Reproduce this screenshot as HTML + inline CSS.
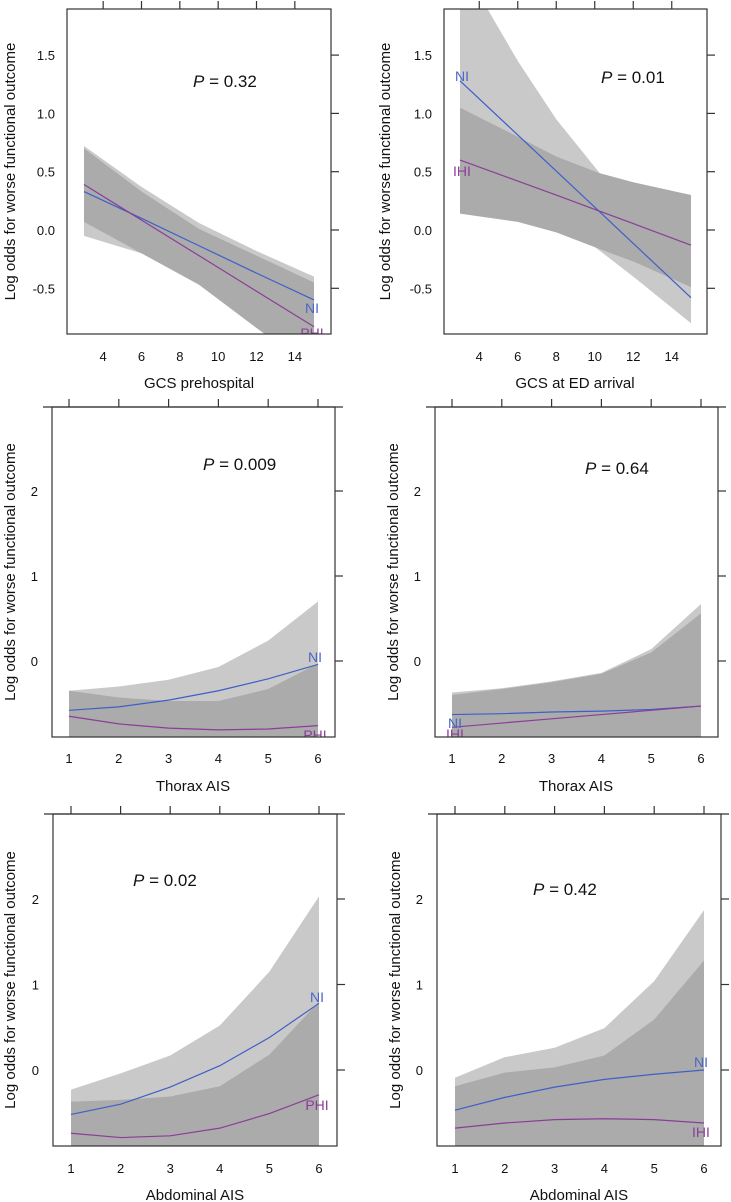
<!DOCTYPE html>
<html><head><meta charset="utf-8"><style>
body{margin:0;background:#fff}
svg{display:block}
text{font-family:"Liberation Sans",sans-serif}
</style></head><body>
<svg id="fig" width="731" height="1202" viewBox="0 0 731 1202" xmlns="http://www.w3.org/2000/svg"></svg>
<script>
// ---- Panel data ----
const p1_x=[3,6,9,12,15];
const p1_ni_fit=[0.33,0.10,-0.135,-0.37,-0.60];
const p1_ni_hi=[0.72,0.37,0.06,-0.18,-0.40];
const p1_ni_lo=[-0.05,-0.20,-0.33,-0.55,-0.80];
const p1_g_fit=[0.39,0.085,-0.22,-0.525,-0.83];
const p1_g_hi=[0.70,0.33,0.01,-0.22,-0.45];
const p1_g_lo=[0.07,-0.20,-0.47,-0.84,-1.2];

const p2_x=[3,6,8,10.2,12,15];
const p2_ni_fit=[1.28,0.815,0.505,0.165,-0.115,-0.58];
const p2_ni_hi=[2.3,1.45,0.95,0.50,0.15,-0.40];
const p2_ni_lo=[0.5,0.3,0.1,-0.17,-0.40,-0.80];
const p2_g_fit=[0.60,0.42,0.30,0.165,0.055,-0.13];
const p2_g_hi=[1.05,0.80,0.63,0.49,0.41,0.30];
const p2_g_lo=[0.14,0.07,-0.02,-0.16,-0.27,-0.49];

const p3_x=[1,2,3,4,5,6];
const p3_ni_fit=[-0.58,-0.54,-0.46,-0.35,-0.21,-0.04];
const p3_ni_hi=[-0.35,-0.30,-0.22,-0.07,0.24,0.70];
const p3_ni_lo=[-0.82,-0.78,-0.72,-0.66,-0.60,-0.60];
const p3_g_fit=[-0.65,-0.74,-0.79,-0.81,-0.80,-0.76];
const p3_g_hi=[-0.35,-0.43,-0.47,-0.47,-0.33,-0.03];
const p3_g_lo=[-1.2,-1.2,-1.2,-1.2,-1.2,-1.2];

const p4_x=[1,2,3,4,5,6];
const p4_ni_fit=[-0.63,-0.62,-0.60,-0.59,-0.57,-0.53];
const p4_ni_hi=[-0.37,-0.32,-0.24,-0.14,0.14,0.67];
const p4_ni_lo=[-1.0,-1.0,-1.0,-1.0,-1.0,-1.0];
const p4_g_fit=[-0.78,-0.73,-0.68,-0.63,-0.58,-0.53];
const p4_g_hi=[-0.40,-0.33,-0.25,-0.15,0.10,0.56];
const p4_g_lo=[-1.2,-1.2,-1.2,-1.2,-1.2,-1.2];

const p5_x=[1,2,3,4,5,6];
const p5_ni_fit=[-0.52,-0.40,-0.20,0.05,0.38,0.78];
const p5_ni_hi=[-0.23,-0.04,0.17,0.52,1.15,2.03];
const p5_ni_lo=[-0.80,-0.75,-0.60,-0.45,-0.30,-0.3];
const p5_g_fit=[-0.74,-0.79,-0.77,-0.68,-0.51,-0.29];
const p5_g_hi=[-0.37,-0.35,-0.31,-0.19,0.18,0.80];
const p5_g_lo=[-1.2,-1.2,-1.2,-1.2,-1.2,-1.2];

const p6_x=[1,2,3,4,5,6];
const p6_ni_fit=[-0.47,-0.32,-0.20,-0.11,-0.05,0.0];
const p6_ni_hi=[-0.09,0.15,0.26,0.49,1.04,1.87];
const p6_ni_lo=[-0.85,-0.80,-0.66,-0.70,-0.9,-1.0];
const p6_g_fit=[-0.68,-0.62,-0.58,-0.57,-0.58,-0.62];
const p6_g_hi=[-0.19,-0.03,0.03,0.17,0.59,1.28];
const p6_g_lo=[-1.2,-1.2,-1.2,-1.2,-1.2,-1.2];

const gcsTicks=[4,6,8,10,12,14];
const gcsYTicks=[-0.5,0.0,0.5,1.0,1.5];
const gcsYLabels=["-0.5","0.0","0.5","1.0","1.5"];
const aisTicks=[1,2,3,4,5,6];
const aisYTicks=[0,1,2];
const aisYLabels=["0","1","2"];
const pValues=["0.32","0.01","0.009","0.64","0.02","0.42"];
const groupNames=["PHI","IHI","PHI","IHI","PHI","IHI"];
const xTitles=["GCS prehospital","GCS at ED arrival","Thorax AIS","Thorax AIS","Abdominal AIS","Abdominal AIS"];

const NS="http://www.w3.org/2000/svg";
const svg=document.getElementById('fig');
function mk(tag,attrs,parent){const e=document.createElementNS(NS,tag);for(const k in attrs)e.setAttribute(k,attrs[k]);(parent||svg).appendChild(e);return e;}

const panels=[
 {L:67,R:331,T:9,B:334,x0:3,x1:15,px0:84,px1:314,y0:0,y1:0.5,py0:230,py1:171.7,xd:p1_x,nf:p1_ni_fit,nh:p1_ni_hi,nl:p1_ni_lo,gf:p1_g_fit,gh:p1_g_hi,gl:p1_g_lo,xt:gcsTicks,yt:gcsYTicks,yl:gcsYLabels,ylx:55,xly:356,xtly:383,xtx:199,ytx:10,pX:193,pY:81,niL:[312,308],gL:[312,333],ext:false},
 {L:444,R:707,T:9,B:334,x0:3,x1:15,px0:460,px1:691,y0:0,y1:0.5,py0:230,py1:171.7,xd:p2_x,nf:p2_ni_fit,nh:p2_ni_hi,nl:p2_ni_lo,gf:p2_g_fit,gh:p2_g_hi,gl:p2_g_lo,xt:gcsTicks,yt:gcsYTicks,yl:gcsYLabels,ylx:432,xly:356,xtly:383,xtx:575,ytx:385,pX:601,pY:77,niL:[462,76],gL:[462,171],ext:false},
 {L:52,R:335,T:407,B:737,x0:1,x1:6,px0:69,px1:318,y0:0,y1:1,py0:661,py1:576,xd:p3_x,nf:p3_ni_fit,nh:p3_ni_hi,nl:p3_ni_lo,gf:p3_g_fit,gh:p3_g_hi,gl:p3_g_lo,xt:aisTicks,yt:aisYTicks,yl:aisYLabels,ylx:38,xly:758,xtly:786,xtx:193,ytx:10,pX:203,pY:464,niL:[315,657],gL:[315,735],ext:true},
 {L:435,R:718,T:407,B:737,x0:1,x1:6,px0:452,px1:701,y0:0,y1:1,py0:661,py1:576,xd:p4_x,nf:p4_ni_fit,nh:p4_ni_hi,nl:p4_ni_lo,gf:p4_g_fit,gh:p4_g_hi,gl:p4_g_lo,xt:aisTicks,yt:aisYTicks,yl:aisYLabels,ylx:421,xly:758,xtly:786,xtx:576,ytx:393,pX:585,pY:468,niL:[455,723],gL:[455,734],ext:true},
 {L:53,R:337,T:814,B:1146,x0:1,x1:6,px0:71,px1:319,y0:0,y1:1,py0:1070,py1:984.5,xd:p5_x,nf:p5_ni_fit,nh:p5_ni_hi,nl:p5_ni_lo,gf:p5_g_fit,gh:p5_g_hi,gl:p5_g_lo,xt:aisTicks,yt:aisYTicks,yl:aisYLabels,ylx:39,xly:1168,xtly:1195,xtx:195,ytx:10,pX:133,pY:880,niL:[317,997],gL:[317,1105],ext:true},
 {L:437,R:721,T:814,B:1146,x0:1,x1:6,px0:455,px1:704,y0:0,y1:1,py0:1070,py1:984.5,xd:p6_x,nf:p6_ni_fit,nh:p6_ni_hi,nl:p6_ni_lo,gf:p6_g_fit,gh:p6_g_hi,gl:p6_g_lo,xt:aisTicks,yt:aisYTicks,yl:aisYLabels,ylx:423,xly:1168,xtly:1195,xtx:579,ytx:395,pX:533,pY:889,niL:[701,1062],gL:[701,1132],ext:true}
];

panels.forEach((p,i)=>{
  const xs=v=>p.px0+(v-p.x0)*(p.px1-p.px0)/(p.x1-p.x0);
  const ys=v=>p.py0+(v-p.y0)*(p.py1-p.py0)/(p.y1-p.y0);
  const g=mk('g',{});
  
  
  const cp=mk('clipPath',{id:'clip'+i},g);
  mk('rect',{x:p.L,y:p.T,width:p.R-p.L,height:p.B-p.T},cp);
  const plot=mk('g',{'clip-path':'url(#clip'+i+')'},g);
  function band(hi,lo,fill,name){
    let d='M'+p.xd.map((x,k)=>xs(x)+','+ys(hi[k])).join('L');
    for(let k=p.xd.length-1;k>=0;k--) d+='L'+xs(p.xd[k])+','+ys(lo[k]);
    const e=mk('path',{d:d+'Z',fill:fill},plot);
    
    
  }
  function line(f,col,name){
    const e=mk('polyline',{points:p.xd.map((x,k)=>xs(x)+','+ys(f[k])).join(' '),fill:'none',stroke:col,'stroke-width':1.2},plot);
    
    
  }
  band(p.nh,p.nl,'#c9c9c9','ni-confidence-band');
  band(p.gh,p.gl,'#ababab',groupNames[i].toLowerCase()+'-confidence-band');
  line(p.nf,'#3f5fc8','ni-line');
  line(p.gf,'#8b3d98',groupNames[i].toLowerCase()+'-line');
  let t=mk('text',{x:p.niL[0],y:p.niL[1]+5,'text-anchor':'middle','font-size':14,fill:'#4a66c8'},plot);
  t.textContent='NI';
  
  
  t=mk('text',{x:p.gL[0],y:p.gL[1]+5,'text-anchor':'middle','font-size':14,fill:'#8b3d98'},plot);
  t.textContent=groupNames[i];
  
  
  const b=mk('rect',{x:p.L,y:p.T,width:p.R-p.L,height:p.B-p.T,fill:'none',stroke:'#333','stroke-width':1.2},g);
  
  
  if(p.ext){const e=mk('line',{x1:p.L-9,y1:p.T,x2:p.R+8,y2:p.T,stroke:'#333','stroke-width':1.2},g);
    
    }
  p.xt.forEach(v=>{
    const X=xs(v);
    const tk=mk('line',{x1:X,y1:p.T,x2:X,y2:p.T-8,stroke:'#333','stroke-width':1.2},g);
    
    
    const tl=mk('text',{x:X,y:p.xly+5,'text-anchor':'middle','font-size':13,fill:'#111'},g);
    tl.textContent=String(v);
    
    
  });
  p.yt.forEach((v,k)=>{
    const Y=ys(v);
    const tk=mk('line',{x1:p.R,y1:Y,x2:p.R+8,y2:Y,stroke:'#333','stroke-width':1.2},g);
    
    
    const tl=mk('text',{x:p.ylx,y:Y+5,'text-anchor':'end','font-size':13,fill:'#111'},g);
    tl.textContent=p.yl[k];
    
    
  });
  t=mk('text',{x:p.xtx,y:p.xtly+5,'text-anchor':'middle','font-size':15,fill:'#111'},g);
  t.textContent=xTitles[i];
  
  
  const cy=(p.T+p.B)/2;
  t=mk('text',{x:p.ytx+5,y:cy,'text-anchor':'middle','font-size':15,fill:'#111',transform:'rotate(-90 '+(p.ytx+5)+' '+cy+')'},g);
  t.textContent='Log odds for worse functional outcome';
  
  
  t=mk('text',{x:p.pX,y:p.pY+6,'font-size':17,fill:'#111'},g);
  t.innerHTML='<tspan font-style="italic">P</tspan> = '+pValues[i];
  
  
});
</script>
</body></html>
